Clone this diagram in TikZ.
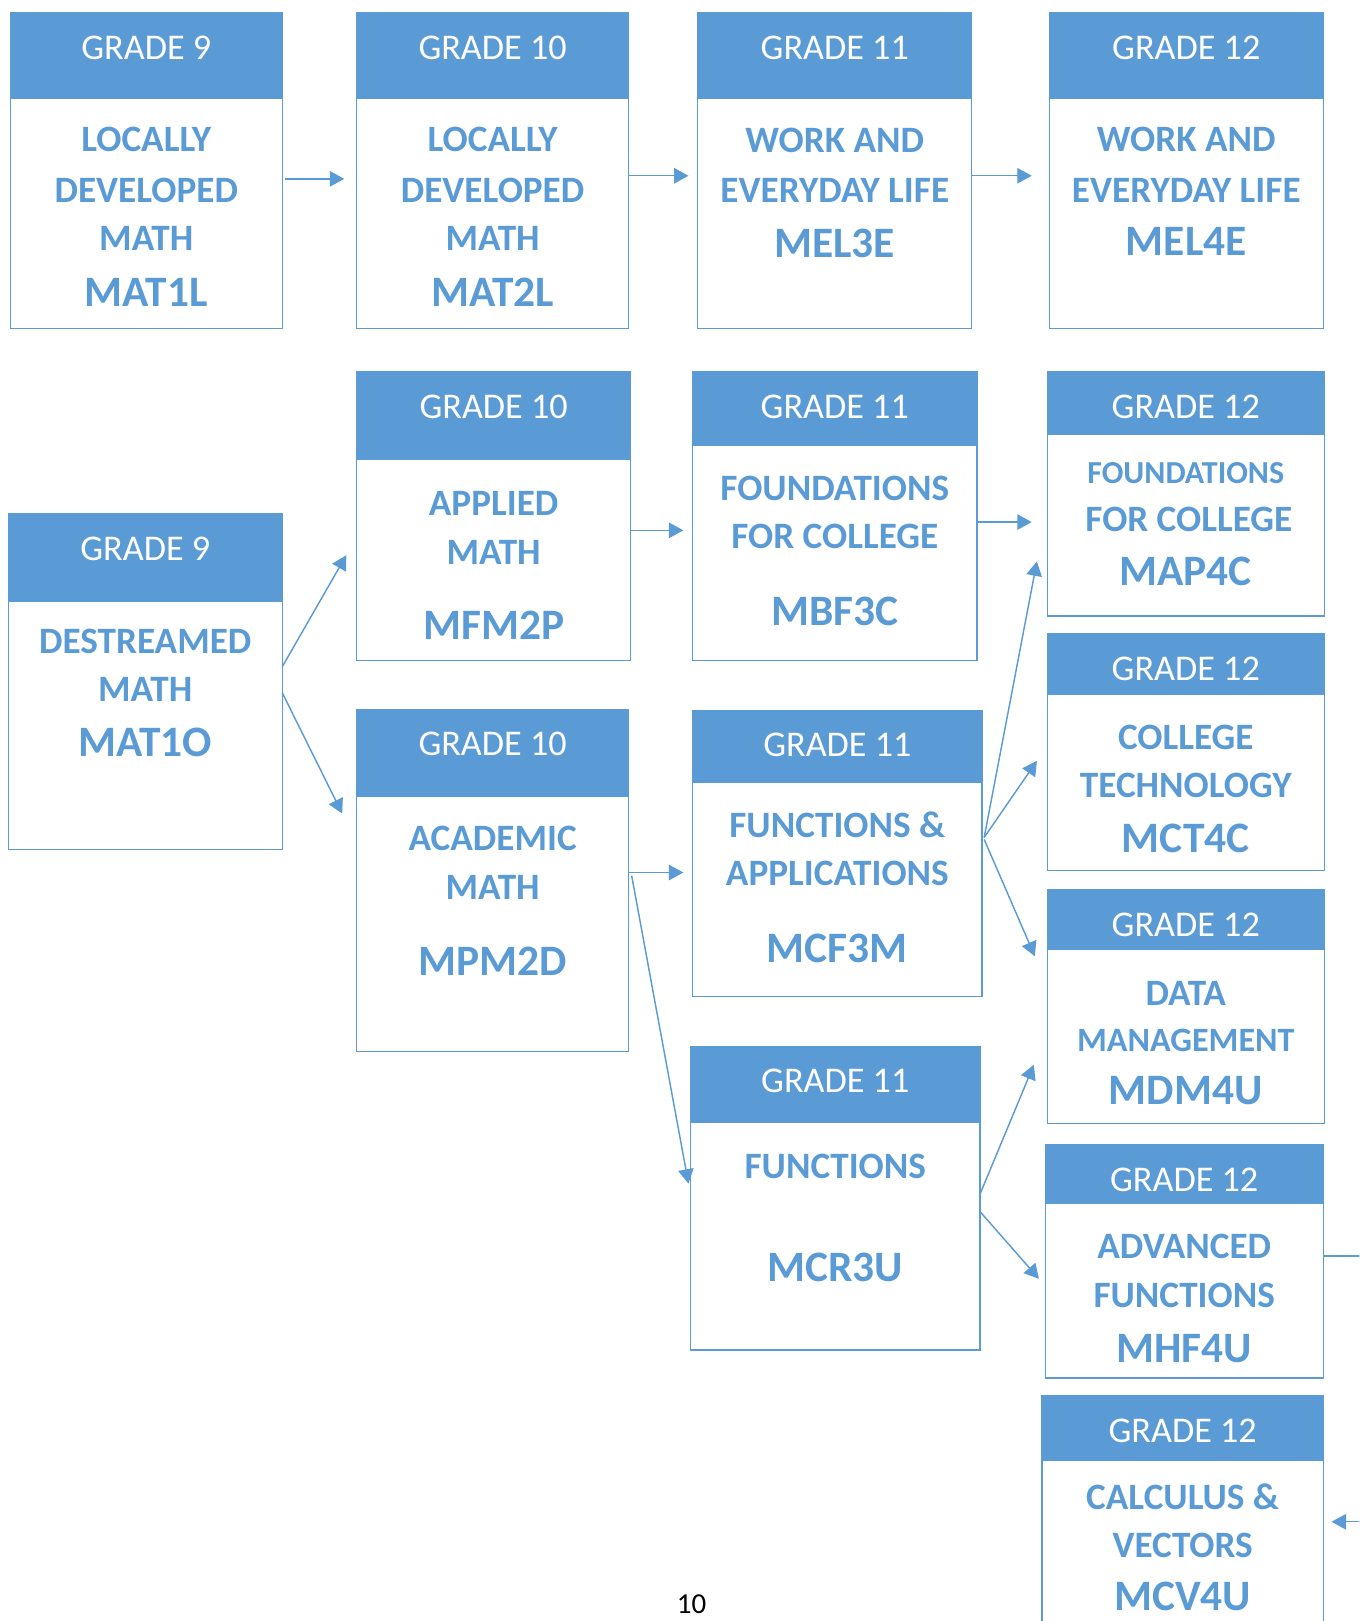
\documentclass[tikz,border=0pt]{standalone}
\usepackage{fontspec}
\setmainfont{Carlito}
\usetikzlibrary{arrows.meta,calc}
\definecolor{cblue}{HTML}{5B9BD5}
\tikzset{
 boxst/.style={draw=cblue, line width=1.3pt, fill=white, rectangle, inner sep=0pt, outer sep=0pt, anchor=north west},
 hdrst/.style={draw=cblue, line width=1.3pt, fill=cblue, rectangle, inner sep=0pt, outer sep=0pt, anchor=north west},
 gradest/.style={text=white, font=\fontsize{35}{40}\selectfont, inner sep=0pt},
 bodyst/.style={text=cblue, font=\bfseries\fontsize{36}{40}\selectfont, inner sep=0pt},
 codest/.style={text=cblue, font=\bfseries\fontsize{42}{46}\selectfont, inner sep=0pt},
 arr/.style={draw=cblue, line width=1.4pt, -{Triangle[length=14pt,width=15pt]}},
}
\newcommand\crs[7]{%
 \node[boxst, minimum width={#3-#2}, minimum height={#6-#4}] (#1) at (#2,-#4) {};
 \node[hdrst, minimum width={#3-#2}, minimum height={#5-#4}] (#1h) at (#2,-#4) {};
 \node[gradest] (#1g) at ({(#2+#3)/2},{-(#4+34)}) {#7};
}
\begin{document}
\begin{tikzpicture}[x=1pt,y=1pt]
\useasboundingbox (0,0) rectangle (1315,-1568);
\clip (0,0) rectangle (1315,-1568);
% Row 1
\crs{A}{10}{273}{12}{95}{318}{GRADE 9}
\node[bodyst] (A1) at (141.5,-135) {LOCALLY};
\node[bodyst] (A2) at (141.5,-184) {DEVELOPED};
\node[bodyst] (A3) at (141.5,-231) {MATH};
\node[codest] (A4) at (141.5,-283) {MAT1L};
\crs{B}{345}{608}{12}{95}{318}{GRADE 10}
\node[bodyst] (B1) at (476.5,-135) {LOCALLY};
\node[bodyst] (B2) at (476.5,-184) {DEVELOPED};
\node[bodyst] (B3) at (476.5,-231) {MATH};
\node[codest] (B4) at (476.5,-283) {MAT2L};
\crs{C}{675}{940}{12}{95}{318}{GRADE 11}
\node[bodyst] (C1) at (807.5,-136) {WORK AND};
\node[bodyst] (C2) at (807.5,-184) {EVERYDAY LIFE};
\node[codest] (C3) at (807.5,-235) {MEL3E};
\crs{D}{1015}{1280}{12}{95}{318}{GRADE 12}
\node[bodyst] (D1) at (1147.5,-135) {WORK AND};
\node[bodyst] (D2) at (1147.5,-184) {EVERYDAY LIFE};
\node[codest] (D3) at (1147.5,-234) {MEL4E};
% Grade 9 destreamed
\crs{E}{8}{273}{497}{582}{822}{GRADE 9}
\node[bodyst] (E1) at (140.5,-620) {DESTREAMED};
\node[bodyst] (E2) at (140.5,-667) {MATH};
\node[codest] (E3) at (140.5,-718) {MAT1O};
% Grade 10
\crs{F}{345}{610}{360}{444}{639}{GRADE 10}
\node[bodyst] (F1) at (477.5,-487) {APPLIED};
\node[bodyst] (F2) at (477.5,-534) {MATH};
\node[codest] (F3) at (477.5,-605) {MFM2P};
\crs{G}{345}{608}{686}{770}{1017}{GRADE 10}
\node[bodyst] (G1) at (476.5,-811) {ACADEMIC};
\node[bodyst] (G2) at (476.5,-858) {MATH};
\node[codest] (G3) at (476.5,-930) {MPM2D};
% Grade 11
\crs{H}{670}{945}{360}{431}{639}{GRADE 11}
\node[bodyst] (H1) at (807.5,-472) {FOUNDATIONS};
\node[bodyst] (H2) at (807.5,-519) {FOR COLLEGE};
\node[codest] (H3) at (807.5,-591) {MBF3C};
\crs{I}{670}{950}{687}{757}{964}{GRADE 11}
\node[bodyst] (I1) at (810,-798) {FUNCTIONS \&};
\node[bodyst] (I2) at (810,-845) {APPLICATIONS};
\node[codest] (I3) at (810,-917) {MCF3M};
\crs{J}{668}{948}{1012}{1086}{1306}{GRADE 11}
\node[bodyst] (J1) at (808,-1128) {FUNCTIONS};
\node[codest] (J2) at (808,-1226) {MCR3U};
% Grade 12
\crs{K}{1013}{1281}{360}{420}{596}{GRADE 12}
\node[bodyst, font=\bfseries\fontsize{31}{36}\selectfont] (K1) at (1147,-458) {FOUNDATIONS};
\node[bodyst] (K2) at (1150,-502) {FOR COLLEGE};
\node[codest] (K3) at (1147,-553) {MAP4C};
\crs{L}{1013}{1281}{613}{672}{842}{GRADE 12}
\node[bodyst] (L1) at (1147,-713) {COLLEGE};
\node[bodyst] (L2) at (1147,-760) {TECHNOLOGY};
\node[codest] (L3) at (1147,-811) {MCT4C};
\crs{M}{1013}{1281}{861}{918}{1087}{GRADE 12}
\node[bodyst] (M1) at (1147,-961) {DATA};
\node[bodyst, font=\bfseries\fontsize{33}{38}\selectfont] (M2) at (1147,-1006) {MANAGEMENT};
\node[codest] (M3) at (1147,-1055) {MDM4U};
\crs{N}{1011}{1280}{1107}{1164}{1333}{GRADE 12}
\node[bodyst] (N1) at (1145.5,-1206) {ADVANCED};
\node[bodyst] (N2) at (1145.5,-1253) {FUNCTIONS};
\node[codest] (N3) at (1145.5,-1304) {MHF4U};
\crs{O}{1008}{1280}{1350}{1413}{1640}{GRADE 12}
\node[bodyst] (O1) at (1144,-1448) {CALCULUS \&};
\node[bodyst] (O2) at (1144,-1495) {VECTORS};
\node[codest] (O3) at (1144,-1544) {MCV4U};
% page number
\node[text=black, font=\fontsize{28}{32}\selectfont, inner sep=0pt] (pg) at (669,-1552) {10};
% connectors
\draw[arr] ($(A.east)+(3,-8)$) -- ($(B.west)+(-12,-8)$);
\draw[arr] ($(B.east)+(0,-5)$) -- ($(C.west)+(-9,-5)$);
\draw[arr] ($(C.east)+(0,-5)$) -- ($(D.west)+(-17,-5)$);
\draw[arr] ($(E.east)+(0,14.5)$) -- ($(F.west)+(-10,-37.5)$);
\draw[arr] ($(E.east)+(0,-10.5)$) -- ($(G.west)+(-14,64.5)$);
\draw[arr] ($(F.east)+(0,-13.5)$) -- ($(H.west)+(-9,-13.5)$);
\draw[arr] ($(G.east)+(0,7.5)$) -- ($(I.west)+(-9,-18.5)$);
\draw[arr] ($(G.east)+(3,4.5)$) -- ($(J.west)+(-2,14)$);
\draw[arr] ($(H.east)+(0,-5.5)$) -- ($(K.west)+(-15,-27)$);
\draw[arr] ($(I.east)+(2,15.5)$) -- ($(K.west)+(-10,-65)$);
\draw[arr] ($(I.east)+(2,15.5)$) -- ($(L.west)+(-10,-8.5)$);
\draw[arr] ($(I.east)+(2,13.5)$) -- ($(M.west)+(-12,49)$);
\draw[arr] ($(J.east)+(0,4)$) -- ($(M.west)+(-13,-56)$);
\draw[arr] ($(J.east)+(0,-13)$) -- ($(N.west)+(-6,-17)$);
\draw[arr] ($(N.east)+(0,5)$) -- ++(60,0) |- ($(O.east)+(8,23)$);
\end{tikzpicture}
\end{document}
